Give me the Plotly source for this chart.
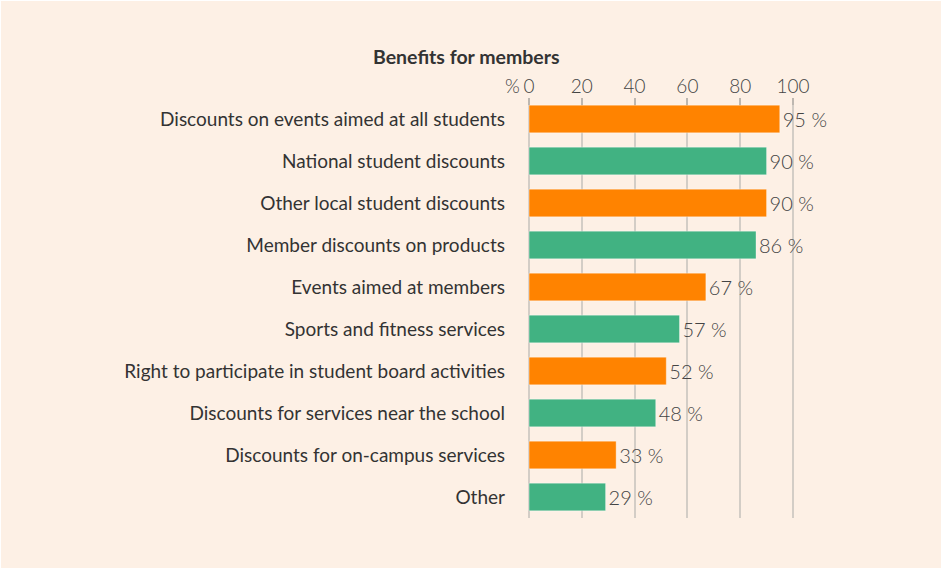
import plotly.graph_objects as go

# Data
categories = [
    "Discounts on events aimed at all students",
    "National student discounts",
    "Other local student discounts",
    "Member discounts on products",
    "Events aimed at members",
    "Sports and fitness services",
    "Right to participate in student board activities",
    "Discounts for services near the school",
    "Discounts for on-campus services",
    "Other",
]
values = [95, 90, 90, 86, 67, 57, 52, 48, 33, 29]
tick_vals = [0, 20, 40, 60, 80, 100]

ORANGE = "#FF8300"
GREEN = "#41B282"
BG = "#FDF0E5"
GRID = "#D3CDC6"

colors = [ORANGE if i % 2 == 0 else GREEN for i in range(len(values))]

# figure size and margins (pixels)
W, H = 940, 567
ML, MR, MT, MB = 527, 147, 97, 50
plot_w = W - ML - MR
plot_h = H - MT - MB

fig = go.Figure()
fig.add_trace(go.Bar(
    x=values,
    y=categories,
    orientation="h",
    marker=dict(color=colors, line=dict(color="rgba(255,255,255,0.35)", width=1)),
    text=[f"{v} %" for v in values],
    textposition="outside",
    cliponaxis=False,
    textfont=dict(family="Lato", size=20, color="#444444", weight=300),
    width=0.66,
))

fig.update_layout(
    width=W, height=H,
    paper_bgcolor=BG, plot_bgcolor=BG,
    margin=dict(l=ML, r=MR, t=MT, b=MB),
    showlegend=False,
    font=dict(family="Lato", color="#333333"),
    xaxis=dict(
        side="top", range=[-0.4, 100.4], tickvals=tick_vals,
        showgrid=True, gridcolor=GRID, gridwidth=1.5,
        zeroline=False, showline=False,
        tickfont=dict(family="Lato", size=19, color="#444444", weight=300),
        ticks="inside", ticklen=7, tickcolor="#BDB7B0", tickwidth=1.5,
    ),
    yaxis=dict(
        autorange="reversed", showgrid=False, zeroline=False,
        tickfont=dict(family="Lato", size=19, color="#333333"),
        ticklabelstandoff=22,
    ),
    annotations=[
        dict(text="<b>Benefits for members</b>", xref="paper", yref="paper",
             x=(370 - ML) / plot_w, y=(H - MB - 56) / plot_h,
             xanchor="left", yanchor="middle", showarrow=False,
             font=dict(family="Lato", size=19.5, color="#333333")),
        dict(text="%", xref="paper", yref="paper",
             x=(521 - ML) / plot_w, y=(H - MB - 84) / plot_h,
             xanchor="right", yanchor="middle", showarrow=False,
             font=dict(family="Lato", size=19, color="#444444", weight=300)),
    ],
)

fig.write_html("out.html", post_script="document.body.style.margin='1px 0 0 1px';")
